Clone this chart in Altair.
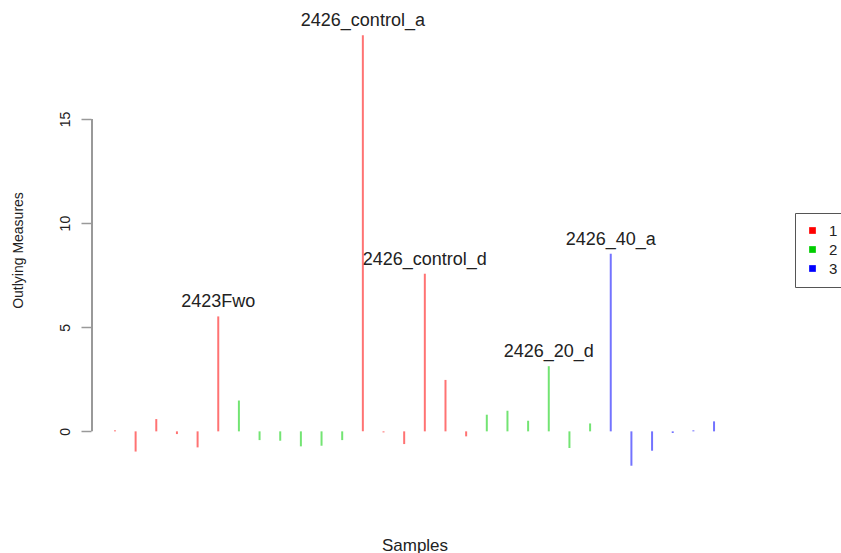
import altair as alt
import pandas as pd

# Outlying measure of each sample (index order), its class and its label
values = [0.05, -0.97, 0.59, -0.13, -0.77, 5.52, 1.48, -0.42, -0.45, -0.72,
          -0.69, -0.42, 19.02, -0.05, -0.61, 7.57, 2.47, -0.24, 0.80, 0.99,
          0.51, 3.13, -0.80, 0.38, 8.53, -1.65, -0.93, -0.08, 0.05, 0.48]
classes = ["1"] * 6 + ["2"] * 6 + ["1"] * 6 + ["2"] * 6 + ["3"] * 6
labels = [""] * 30
labels[5] = "2423Fwo"
labels[12] = "2426_control_a"
labels[15] = "2426_control_d"
labels[21] = "2426_20_d"
labels[24] = "2426_40_a"
axis_ticks = [0, 5, 10, 15]

df = pd.DataFrame({
    "idx": list(range(1, len(values) + 1)),
    "value": values,
    "base": [0.0] * len(values),
    "cls": classes,
    "label": labels,
})
axis_df = pd.DataFrame({"lo": [axis_ticks[0]], "hi": [axis_ticks[-1]]})

FONT = "Liberation Sans"
W, H = 647, 465
xdom = [-0.16, 31.16]
ydom = [-2.48, 19.85]

xs = alt.Scale(domain=xdom, nice=False, zero=False)
ys = alt.Scale(domain=ydom, nice=False, zero=False)
cs = alt.Scale(domain=["1", "2", "3"], range=["#ff0000", "#00cd00", "#0000ff"])

base = alt.Chart(df)

legend_layer = base.mark_square(filled=True, opacity=0).encode(
    x=alt.X("idx:Q", scale=xs,
            axis=alt.Axis(title="Samples", ticks=False, labels=False, domain=False,
                          grid=False, titleFont=FONT, titleFontSize=17,
                          titleFontWeight="normal", titleColor="#222",
                          titleY=62, titleBaseline="middle")),
    y=alt.Y("value:Q", scale=ys,
            axis=alt.Axis(title="Outlying Measures", values=axis_ticks, grid=False,
                          domain=False, tickSize=10, tickColor="#999", tickWidth=1.5,
                          labelAngle=-90, labelAlign="center", labelBaseline="bottom",
                          labelPadding=9, labelFont=FONT, labelFontSize=14,
                          labelColor="#222", titleFont=FONT, titleFontSize=14,
                          titleFontWeight="normal", titleColor="#222",
                          titleAngle=-90, titleX=-73, titleY=232,
                          titleAlign="center", titleBaseline="middle")),
    color=alt.Color("cls:N", scale=cs,
                    legend=alt.Legend(title=None, orient="none", legendX=704, legendY=195,
                                      symbolType="square", symbolSize=45,
                                      symbolOpacity=1, symbolStrokeWidth=0,
                                      labelFont=FONT, labelFontSize=15, labelColor="#222",
                                      strokeColor="#555", fillColor="white",
                                      padding=10, rowPadding=3, labelOffset=9)),
)

yaxis_line = alt.Chart(axis_df).mark_rule(color="#999", strokeWidth=2).encode(
    x=alt.value(1),
    y=alt.Y("lo:Q", scale=ys),
    y2="hi:Q",
)

bars = base.mark_rule(strokeWidth=2, opacity=0.55).encode(
    x=alt.X("idx:Q", scale=xs),
    y=alt.Y("base:Q", scale=ys),
    y2="value:Q",
    color=alt.Color("cls:N", scale=cs, legend=None),
)

text = base.transform_filter(alt.datum.label != "").mark_text(
    font=FONT, fontSize=18, color="#222", baseline="alphabetic", dy=-9
).encode(
    x=alt.X("idx:Q", scale=xs),
    y=alt.Y("value:Q", scale=ys),
    text="label:N",
)

chart = alt.layer(legend_layer, yaxis_line, bars, text).properties(
    width=W, height=H,
    padding={"left": 91, "top": 18, "right": 103, "bottom": 70},
    autosize=alt.AutoSizeParams(type="none"),
).configure(background="white").configure_view(stroke=None)

chart.save("out.html", embed_options={"renderer": "svg", "actions": False})
